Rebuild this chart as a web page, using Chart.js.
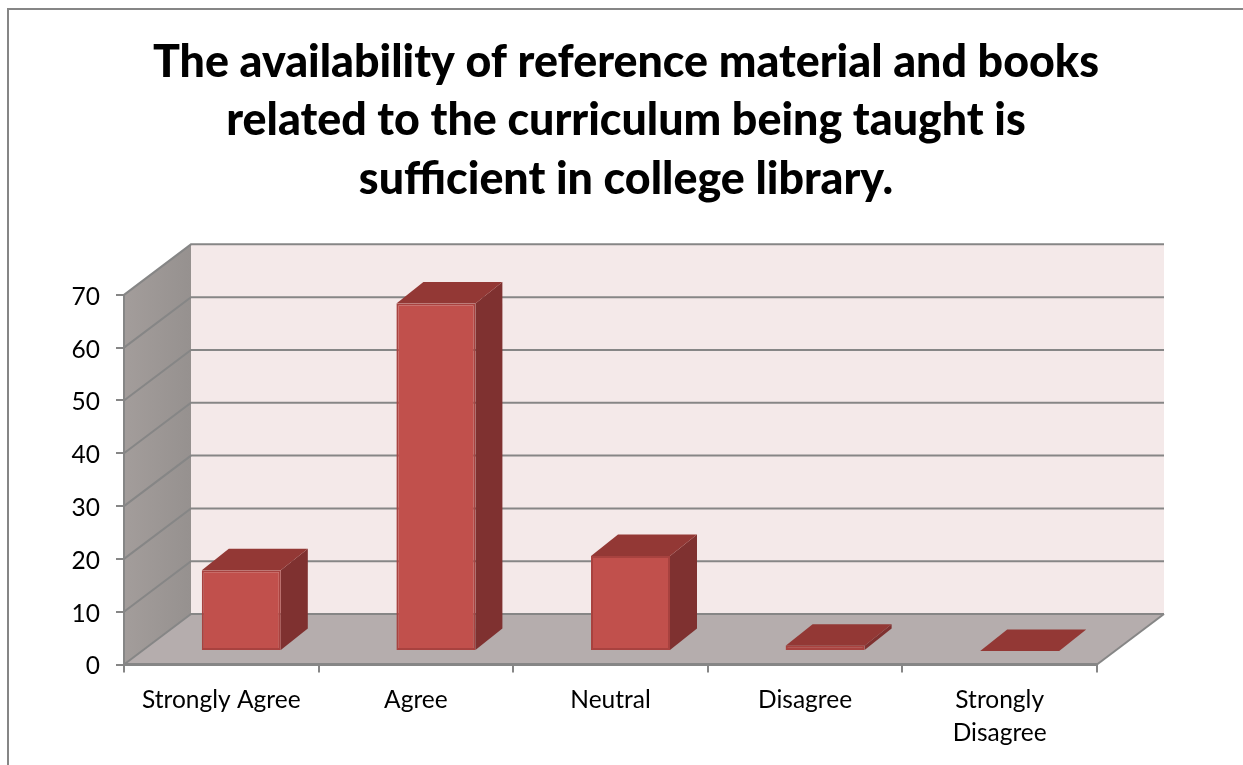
<!DOCTYPE html>
<html>
<head>
<meta charset="utf-8">
<title>College library survey</title>
<script src="https://cdn.jsdelivr.net/npm/chart.js@4"></script>
<style>
  html, body { margin: 0; padding: 0; background: #fff; }
  canvas { display: block; }
</style>
</head>
<body>
<canvas id="grafico" width="1243" height="765"></canvas>
<script>
// ===== Data =====
const categories = ["Strongly Agree", "Agree", "Neutral", "Disagree", ["Strongly", "Disagree"]];
const percentValues = [15.3, 65.8, 18, 1, 0];
const titleLines = [
  "The availability of reference material and books",
  "related to the curriculum being taught is",
  "sufficient in college library."
];
const yTicks = [0, 10, 20, 30, 40, 50, 60, 70];

// ===== 3D look =====
const wallDepth = { x: 67, y: -50.5 };   // front axis -> back wall
const barOffset = { x: 20, y: -13.5 };   // bars stand in the middle of the floor
const barDepth = { x: 27, y: -21.5 };
const lineGrey = "#868686";

function poly(ctx, pts, fill) {
  ctx.beginPath();
  pts.forEach((p, i) => i ? ctx.lineTo(p[0], p[1]) : ctx.moveTo(p[0], p[1]));
  ctx.closePath();
  ctx.fillStyle = fill;
  ctx.fill();
}

const box3d = {
  id: "box3d",
  afterLayout(chart) {
    // title is centred on the whole frame, not on the plot
    chart.titleBlock.left = 9;
    chart.titleBlock.right = 1243;
  },
  beforeDraw(chart) {
    const { ctx, chartArea: a, scales: { y } } = chart;
    const dx = wallDepth.x, dy = wallDepth.y;

    ctx.save();
    // outer frame, cropped at right and bottom
    ctx.strokeStyle = lineGrey;
    ctx.lineWidth = 2;
    ctx.beginPath();
    ctx.moveTo(8, 765);
    ctx.lineTo(8, 9);
    ctx.lineTo(1243, 9);
    ctx.stroke();

    // back wall
    poly(ctx, [[a.left + dx, a.top + dy], [a.right + dx, a.top + dy],
               [a.right + dx, a.bottom + dy], [a.left + dx, a.bottom + dy]], "#f4e9e9");
    // left wall
    const wall = ctx.createLinearGradient(a.left, 0, a.left + dx, 0);
    wall.addColorStop(0, "#a39d9b");
    wall.addColorStop(1, "#96918f");
    poly(ctx, [[a.left, a.bottom], [a.left + dx, a.bottom + dy],
               [a.left + dx, a.top + dy], [a.left, a.top]], wall);
    // floor
    poly(ctx, [[a.left, a.bottom], [a.right, a.bottom],
               [a.right + dx, a.bottom + dy], [a.left + dx, a.bottom + dy]], "#b5adad");

    // grid lines run along the left wall and the back wall
    ctx.strokeStyle = lineGrey;
    ctx.lineWidth = 2;
    yTicks.forEach(v => {
      const py = y.getPixelForValue(v);
      ctx.beginPath();
      ctx.moveTo(a.left, py);
      ctx.lineTo(a.left + dx, py + dy);
      ctx.lineTo(a.right + dx, py + dy);
      ctx.stroke();
    });
    // right edge of the floor
    ctx.beginPath();
    ctx.moveTo(a.right + dx, a.bottom + dy);
    ctx.lineTo(a.right, a.bottom);
    ctx.stroke();
    ctx.restore();
  },
  beforeDatasetDraw(chart, args) {
    const ctx = chart.ctx;
    args.meta.data.forEach(el => {
      const x1 = el.x + el.width / 2 + barOffset.x;
      const x0 = el.x - el.width / 2 + barOffset.x;
      const top = el.y + barOffset.y;
      const base = el.base + barOffset.y;
      const bx = barDepth.x, by = barDepth.y;
      poly(ctx, [[x1, top], [x1 + bx, top + by], [x1 + bx, base + by], [x1, base]], "#7f3130");
      poly(ctx, [[x0, top], [x1, top], [x1 + bx, top + by], [x0 + bx, top + by]], "#933835");
    });
    // front faces are drawn by the library, just moved onto the floor
    ctx.save();
    ctx.translate(barOffset.x, barOffset.y);
  },
  afterDatasetDraw(chart) {
    chart.ctx.restore();
  }
};

// ===== Chart =====
new Chart(document.getElementById("grafico"), {
  type: "bar",
  data: {
    labels: categories,
    datasets: [{
      data: percentValues,
      backgroundColor: "#c1504c",
      borderColor: "#a8423f",
      borderWidth: 2,
      borderSkipped: false,
      categoryPercentage: 1,
      barPercentage: 0.406,
      clip: false
    }]
  },
  options: {
    responsive: false,
    animation: false,
    layout: { padding: { left: 0, right: 146, top: 0, bottom: 0 } },
    plugins: {
      legend: { display: false },
      tooltip: { enabled: false },
      title: {
        display: true,
        text: titleLines,
        color: "#000",
        font: { family: "Lato", size: 44.75, weight: "900", lineHeight: 1.31 },
        padding: { top: 33, bottom: 86 }
      }
    },
    scales: {
      x: {
        afterFit: s => { s.height = 100.5; },
        grid: { drawOnChartArea: false, drawTicks: true, tickLength: 8, color: lineGrey, lineWidth: 2 },
        border: { display: true, color: lineGrey, width: 3 },
        ticks: {
          color: "#000",
          padding: 11,
          maxRotation: 0,
          font: { family: "Lato", size: 24.5, lineHeight: 1.35 }
        }
      },
      y: {
        min: 0,
        max: 70,
        afterFit: s => { s.width = 124; },
        afterBuildTicks: s => { s.ticks = yTicks.map(v => ({ value: v })); },
        grid: { drawOnChartArea: false, drawTicks: true, tickLength: 8, color: lineGrey, lineWidth: 2 },
        border: { display: true, color: lineGrey, width: 2 },
        ticks: {
          color: "#000",
          padding: 16,
          labelOffset: 2,
          font: { family: "Lato", size: 24.5 }
        }
      }
    }
  },
  plugins: [box3d]
});
</script>
</body>
</html>
